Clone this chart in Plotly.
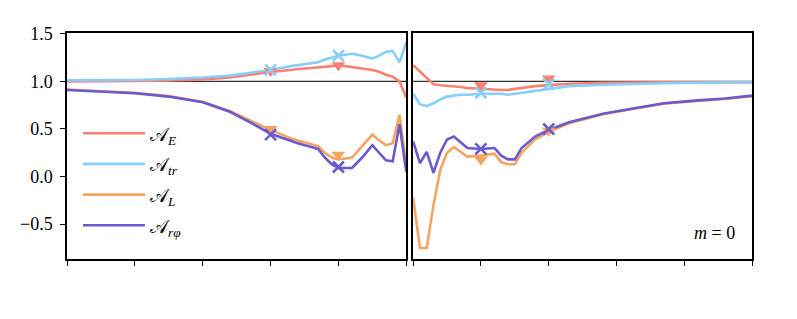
import plotly.graph_objects as go

# ---------------- data ----------------
x_left = [0, 0.5, 1.0, 1.5, 2.0, 2.4, 2.7, 3.0, 3.3, 3.4, 3.6, 3.7, 3.8, 3.9,
          4.0, 4.1, 4.2, 4.35, 4.5, 4.6, 4.7, 4.8, 4.9, 5.0]
AE_left = [1.0, 1.0, 1.005, 1.01, 1.02, 1.04, 1.07, 1.1, 1.12, 1.13, 1.14, 1.145, 1.15, 1.16,
           1.17, 1.16, 1.15, 1.14, 1.12, 1.1, 1.07, 1.05, 1.0, 0.83]
Atr_left = [1.01, 1.01, 1.015, 1.025, 1.04, 1.06, 1.09, 1.12, 1.16, 1.17, 1.19, 1.2, 1.23, 1.25,
            1.27, 1.28, 1.29, 1.27, 1.24, 1.27, 1.31, 1.32, 1.2, 1.41]
AL_left = [0.915, 0.9, 0.88, 0.845, 0.785, 0.69, 0.59, 0.49, 0.4, 0.38, 0.34, 0.32, 0.25, 0.2,
           0.18, 0.19, 0.2, 0.32, 0.44, 0.38, 0.33, 0.35, 0.65, 0.12]
Arp_left = [0.91, 0.895, 0.875, 0.84, 0.78, 0.68, 0.57, 0.45, 0.37, 0.35, 0.31, 0.29, 0.2, 0.13,
            0.09, 0.09, 0.09, 0.2, 0.33, 0.25, 0.17, 0.16, 0.55, 0.05]

x_right = [0, 0.1, 0.2, 0.3, 0.4, 0.5, 0.6, 0.7, 0.8, 1.0, 1.2, 1.3, 1.4, 1.5, 1.6, 1.8,
           2.0, 2.3, 2.8, 3.2, 3.7, 4.2, 4.6, 5.0]
AE_right = [1.17, 1.1, 1.03, 0.97, 0.96, 0.955, 0.95, 0.94, 0.93, 0.92, 0.91, 0.91, 0.91, 0.92,
            0.93, 0.95, 0.96, 0.975, 0.985, 0.99, 0.99, 0.99, 0.99, 0.99]
Atr_right = [0.87, 0.76, 0.74, 0.77, 0.81, 0.84, 0.85, 0.86, 0.86, 0.87, 0.87, 0.87, 0.86, 0.87,
             0.88, 0.9, 0.92, 0.95, 0.965, 0.975, 0.98, 0.985, 0.99, 0.99]
AL_right = [-0.22, -0.75, -0.75, -0.3, 0.07, 0.25, 0.31, 0.26, 0.21, 0.22, 0.24, 0.15, 0.13, 0.13,
            0.25, 0.39, 0.47, 0.56, 0.655, 0.705, 0.765, 0.795, 0.815, 0.845]
Arp_right = [0.37, 0.14, 0.26, 0.04, 0.25, 0.39, 0.42, 0.36, 0.3, 0.29, 0.3, 0.22, 0.18, 0.18,
             0.3, 0.42, 0.49, 0.57, 0.66, 0.71, 0.77, 0.8, 0.82, 0.85]

# marker positions
mx_left = [3, 4]
mAE_left = [1.11, 1.17]
mAtr_left = [1.12, 1.27]
mAL_left = [0.5, 0.23]
mArp_left = [0.44, 0.1]
mx_right = [1, 2]
mAE_right = [0.96, 1.03]
mAtr_right = [0.88, 0.97]
mAL_right = [0.18, 0.48]
mArp_right = [0.29, 0.5]

names = ["𝒜<sub><i>E</i></sub>", "𝒜<sub><i>tr</i></sub>", "𝒜<sub><i>L</i></sub>", "𝒜<sub><i>rφ</i></sub>"]
colors = ["#fa8072", "#87cefa", "#f4a460", "#6a5acd"]
symbols = ["triangle-down", "x-thin", "triangle-down", "x-thin"]
panel_label = "<i>m</i> = 0"
ytick_vals = [-0.5, 0.0, 0.5, 1.0, 1.5]
ytick_text = ["−0.5", "0.0", "0.5", "1.0", "1.5"]
xtick_vals = [0, 1, 2, 3, 4, 5]

left = [AE_left, Atr_left, AL_left, Arp_left]
right = [AE_right, Atr_right, AL_right, Arp_right]
mleft = [mAE_left, mAtr_left, mAL_left, mArp_left]
mright = [mAE_right, mAtr_right, mAL_right, mArp_right]

fig = go.Figure()
for i in range(4):
    fig.add_trace(go.Scatter(x=x_left, y=left[i], mode="lines", name=names[i],
                             line=dict(color=colors[i], width=2.6),
                             legendgroup=f"g{i}", xaxis="x", yaxis="y"))
    fig.add_trace(go.Scatter(x=x_right, y=right[i], mode="lines", showlegend=False,
                             line=dict(color=colors[i], width=2.6),
                             legendgroup=f"g{i}", xaxis="x2", yaxis="y2"))
for i in range(4):
    if symbols[i] == "x-thin":
        mk = dict(symbol="x-thin", size=11, color=colors[i], line=dict(color=colors[i], width=2.6))
    else:
        mk = dict(symbol="triangle-down", size=12, color=colors[i], line=dict(width=0))
    fig.add_trace(go.Scatter(x=mx_left, y=mleft[i], mode="markers", showlegend=False,
                             marker=mk, xaxis="x", yaxis="y"))
    fig.add_trace(go.Scatter(x=mx_right, y=mright[i], mode="markers", showlegend=False,
                             marker=mk, xaxis="x2", yaxis="y2"))

# reference line y=1
for xa, ya in (("x", "y"), ("x2", "y2")):
    fig.add_shape(type="line", xref=f"{xa} domain", yref=ya, x0=0, x1=1, y0=1, y1=1,
                  line=dict(color="#333333", width=1.2), layer="below")

yr = [-0.866, 1.508]
axis_common = dict(showline=True, linecolor="black", linewidth=1.5, mirror=True,
                   showgrid=False, zeroline=False, automargin=False)
serif = "'Liberation Serif', 'DejaVu Serif', serif"
fig.update_layout(
    width=781, height=303,
    margin=dict(l=59, r=36.8, t=24.5, b=51.5, autoexpand=False),
    plot_bgcolor="white", paper_bgcolor="white",
    font=dict(family=serif, size=15, color="black"),
    xaxis=dict(domain=[0, 0.4953], range=[0, 5], tickvals=xtick_vals,
               showticklabels=False, ticks="outside", ticklen=5, tickwidth=1.3,
               tickcolor="black", **axis_common),
    xaxis2=dict(domain=[0.5053, 1], range=[0, 5], tickvals=xtick_vals,
                showticklabels=False, ticks="outside", ticklen=5, tickwidth=1.3,
                tickcolor="black", anchor="y2", **axis_common),
    yaxis=dict(range=yr, tickvals=ytick_vals, ticktext=ytick_text,
               ticks="outside", ticklen=5, tickwidth=1.3, tickcolor="black",
               ticklabelstandoff=4,
               tickfont=dict(size=18, family=serif), **axis_common),
    yaxis2=dict(range=yr, anchor="x2", showticklabels=False, ticks="", **axis_common),
    showlegend=True,
    legend=dict(x=0.016, y=0.64, xanchor="left", yanchor="top", bgcolor="rgba(0,0,0,0)",
                font=dict(size=19, family=serif), tracegroupgap=3, itemwidth=62),
)
fig.add_annotation(x=0.955, y=-0.59, xref="x2 domain", yref="y2", text=panel_label,
                   showarrow=False, xanchor="right", yanchor="middle",
                   font=dict(size=18, family=serif))

fig.write_html("out.html")
